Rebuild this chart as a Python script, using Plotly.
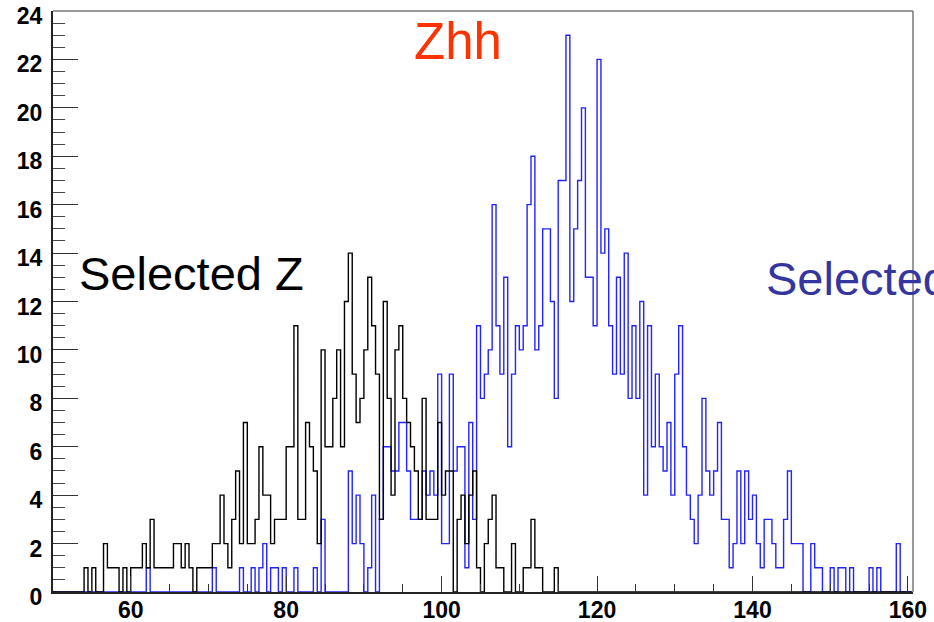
import numpy as np
import plotly.graph_objects as go

# ---------------- data (0.5-wide bins) ----------------
bin_width = 0.5
x_min, x_max = 50.0, 160.5

# "Selected Z" histogram (black), first bin starts at 53.5
black_start = 53.5
black_counts = [0, 1, 0, 1, 0, 0, 2, 1, 1, 1, 0, 1, 0, 1, 1, 1, 2, 1, 3, 1,
                1, 1, 1, 1, 2, 2, 1, 2, 1, 0, 1, 1, 1, 1, 2, 2, 4, 2, 1, 3,
                5, 2, 7, 2, 2, 3, 6, 4, 4, 2, 3, 3, 3, 6, 6, 11, 3, 3, 7, 6,
                5, 2, 10, 6, 6, 8, 10, 6, 12, 14, 9, 7, 8, 10, 13, 11, 9, 3, 12, 8,
                4, 10, 11, 8, 7, 6, 5, 3, 8, 3, 3, 3, 7, 4, 5, 5, 0, 3, 4, 2,
                4, 5, 1, 0, 2, 3, 4, 1, 1, 0, 0, 2, 0, 0, 1, 1, 3, 1, 1, 0,
                0, 0, 1, 0]

# "Selected h" histogram (blue), first bin starts at 61.5
blue_start = 61.5
blue_counts = [0, 1,
               0, 0, 0, 0, 0, 0, 0, 0, 0, 0, 0, 0, 0, 0, 0, 0,
               1, 0, 0, 0, 0, 0, 0,
               1, 0, 0, 1, 0, 1, 2, 0, 1, 1, 0, 1, 0, 0, 1, 0, 0, 0, 0, 1, 0, 3,
               0, 0, 0, 0, 0, 0,
               5, 2, 4, 2, 0, 1, 4, 0, 3, 6, 6, 5, 5, 7, 7, 5, 3, 3, 3, 5,
               4, 5, 4, 9, 2, 2, 9, 5, 6, 6, 1, 7, 3, 11, 8, 9, 10, 16, 11, 9,
               13, 6, 9, 11, 10, 11, 16, 18, 10, 11, 15, 15, 12, 8, 17, 17, 23, 12, 15, 17,
               20, 13, 13, 11, 22, 14, 15, 11, 9, 13, 9, 14, 8, 11, 8, 12, 4, 11, 6, 9,
               6, 5, 7, 4, 9, 11, 6, 4, 3, 2, 4, 8, 5, 4, 5, 7, 3, 3, 1, 2,
               5, 2, 5, 3, 4, 2, 1, 3, 3, 2, 1, 1, 3, 5, 2, 2, 2, 0, 0, 2,
               1, 1, 0, 0, 1, 0, 1, 1, 0, 1, 0, 0, 0, 0, 1, 0, 1, 0, 0, 0,
               0, 2, 0]

x_tick_vals = [60, 80, 100, 120, 140, 160]
y_tick_vals = list(range(0, 25, 2))

labels = {"zhh": "Zhh", "z": "Selected Z", "h": "Selected h"}


def step_xy(start, counts):
    n = int(round((x_max - x_min) / bin_width))
    full = np.zeros(n)
    i0 = int(round((start - x_min) / bin_width))
    full[i0:i0 + len(counts)] = counts
    edges = x_min + bin_width * np.arange(n + 1)
    y = np.append(full, full[-1])
    return edges, y


bx, by = step_xy(black_start, black_counts)
hx, hy = step_xy(blue_start, blue_counts)

fig = go.Figure()
fig.add_trace(go.Scatter(x=hx, y=hy, mode="lines", line_shape="hv",
                         line=dict(color="#2323ff", width=1.4),
                         hoverinfo="skip", showlegend=False))
fig.add_trace(go.Scatter(x=bx, y=by, mode="lines", line_shape="hv",
                         line=dict(color="#000000", width=1.4),
                         hoverinfo="skip", showlegend=False))

tickfont = dict(family="Liberation Sans, Arial, sans-serif", size=23,
                color="#000000", weight="bold")

fig.update_layout(
    width=934, height=622,
    margin=dict(l=53, r=21, t=11, b=30, autoexpand=False),
    paper_bgcolor="white", plot_bgcolor="white",
    xaxis=dict(range=[50, 160.65], showgrid=False, zeroline=False,
               showline=True, linecolor="#222222", linewidth=2,
               ticks="inside", ticklen=16, tickwidth=1.2, tickcolor="#333333",
               tickvals=x_tick_vals, tickfont=tickfont, ticklabelstandoff=-4,
               ticklabeloverflow="allow", automargin=False,
               minor=dict(ticks="inside", ticklen=8, dtick=5, tick0=0,
                          tickcolor="#333333", tickwidth=1)),
    yaxis=dict(range=[0, 24.0], showgrid=False, zeroline=False,
               showline=True, linecolor="#222222", linewidth=2,
               ticks="inside", ticklen=25, tickwidth=1.2, tickcolor="#333333",
               tickvals=y_tick_vals, tickfont=tickfont, ticklabelstandoff=4,
               ticklabelshift=5,
               ticklabeloverflow="allow", automargin=False,
               minor=dict(ticks="inside", ticklen=12, dtick=0.5, tick0=0,
                          tickcolor="#444444", tickwidth=1)),
    shapes=[
        dict(type="line", xref="paper", yref="paper", x0=0, x1=1, y0=1, y1=1,
             line=dict(color="#777777", width=1.5)),
        dict(type="line", xref="paper", yref="paper", x0=1, x1=1, y0=0, y1=1,
             line=dict(color="#777777", width=1.5)),
    ],
    annotations=[
        dict(x=96.2, y=22.75, xref="x", yref="y", text=labels["zhh"],
             showarrow=False, xanchor="left", yanchor="middle",
             font=dict(family="Liberation Sans, Arial, sans-serif", size=51,
                       color="#ff3300")),
        dict(x=53.1, y=13.15, xref="x", yref="y", text=labels["z"],
             showarrow=False, xanchor="left", yanchor="middle",
             font=dict(family="Liberation Sans, Arial, sans-serif", size=47,
                       color="#000000")),
        dict(x=141.5, y=12.95, xref="x", yref="y", text=labels["h"],
             showarrow=False, xanchor="left", yanchor="middle",
             font=dict(family="Liberation Sans, Arial, sans-serif", size=47,
                       color="#3535a0")),
    ],
)

fig.write_html("out.html")
